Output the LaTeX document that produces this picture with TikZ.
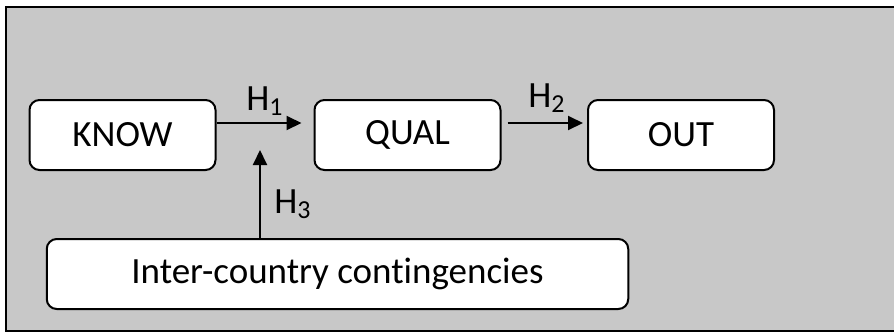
\documentclass[tikz,border=0pt]{standalone}
\usepackage{fontspec}
\setmainfont{Carlito}[Ligatures=NoCommon]
\usetikzlibrary{arrows.meta}
\definecolor{panelgray}{RGB}{200,200,200}

\begin{document}
\begin{tikzpicture}[x=0.5pt,y=-0.5pt,
   font=\fontsize{18.5}{22}\selectfont,
   box/.style={draw,fill=white,line width=1pt,rounded corners=5pt,
     minimum width=93pt,minimum height=35pt,inner sep=0pt},
   link/.style={-{Triangle[length=7.5pt,width=7pt]},line width=1pt}]

\useasboundingbox (0,0) rectangle (894,333);
\clip (0,0) rectangle (894,333);
\draw[fill=panelgray,line width=1pt] (6,7) rectangle (900,331);

\node[box] (know) at (122.5,135){KNOW};
\node[box] (qual) at (407.5,135){QUAL};
\node[box] (out) at (681,135){OUT};
\node[box,minimum width=290.75pt] (ctx) at (337.5,274){Inter-country contingencies};

\node (h1) at (265,101){H\textsubscript{1}};
\node (h2) at (547,98){H\textsubscript{2}};
\node (h3) at (293,204){H\textsubscript{3}};

\coordinate (mod) at (260,150);

\draw[link] ([yshift=6pt]know.east) -- ([yshift=6pt,xshift=-6pt]qual.west);
\draw[link] ([yshift=6pt,xshift=3pt]qual.east) -- ([yshift=6pt,xshift=-2pt]out.west);
\draw[link] (ctx.north -| mod) -- (mod);

\end{tikzpicture}
\end{document}
